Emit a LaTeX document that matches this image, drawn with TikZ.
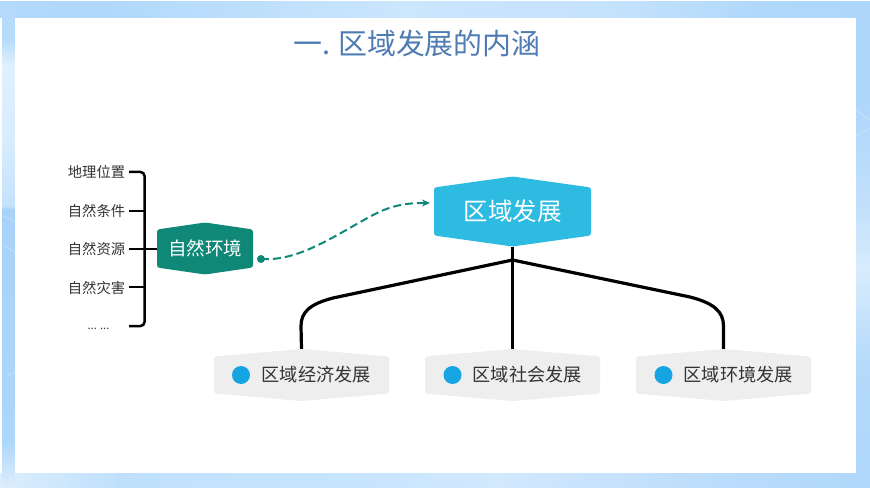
\documentclass[tikz,border=0pt]{standalone}
\usepackage{fontspec}
\setmainfont{Noto Sans CJK SC}
\usetikzlibrary{arrows.meta}
\definecolor{titlec}{HTML}{4F7CB3}
\definecolor{teal}{HTML}{0F8878}
\definecolor{skyb}{HTML}{2DBBE2}
\definecolor{greyb}{HTML}{EEEEEE}
\definecolor{dotb}{HTML}{14A5E2}
\definecolor{txt}{HTML}{333333}
\definecolor{f1}{HTML}{DCEEFC}
\definecolor{f2}{HTML}{ACD6FA}
\definecolor{f3}{HTML}{A8D2F9}
\definecolor{f4}{HTML}{C5E2FC}
\definecolor{f5}{HTML}{D8ECFD}
\definecolor{f6}{HTML}{E0F0FD}
\definecolor{f7}{HTML}{B8DCFB}
\definecolor{f8}{HTML}{B3D9FB}
\definecolor{f9}{HTML}{AFD7FA}
\definecolor{f10}{HTML}{B5DAFA}
\definecolor{f11}{HTML}{C0DFFB}
\definecolor{f12}{HTML}{AED6FB}
\definecolor{f13}{HTML}{B0D8FB}
\definecolor{f14}{HTML}{CBE6FD}
\definecolor{f15}{HTML}{C6E3FC}
\definecolor{f16}{HTML}{BFE0FC}
\definecolor{f17}{HTML}{CAE6FE}
\definecolor{f18}{HTML}{D2E8FD}
\definecolor{f19}{HTML}{BDDDFC}
\pgfdeclareverticalshading{leftstrip}{100bp}{color(0bp)=(f1); color(25bp)=(f1); color(29.85bp)=(f2); color(53.56bp)=(f3); color(54.07bp)=(f4); color(60.77bp)=(f5); color(68.5bp)=(f6); color(71.08bp)=(f7); color(75bp)=(f8); color(100bp)=(f8)}
\pgfdeclareverticalshading{rightstrip}{100bp}{color(0bp)=(f9); color(25bp)=(f9); color(38.09bp)=(f10); color(47.37bp)=(f5); color(54.59bp)=(f11); color(64.9bp)=(f12); color(75bp)=(f12); color(100bp)=(f12)}
\pgfdeclarehorizontalshading{topstrip}{100bp}{color(0bp)=(f8); color(25bp)=(f8); color(30.75bp)=(f13); color(47.99bp)=(f14); color(59.48bp)=(f15); color(68.68bp)=(f13); color(75bp)=(f12); color(100bp)=(f12)}
\pgfdeclarehorizontalshading{botstrip}{100bp}{color(0bp)=(f1); color(25bp)=(f1); color(31.9bp)=(f16); color(47.99bp)=(f17); color(53.74bp)=(f18); color(65.23bp)=(f19); color(75bp)=(f9); color(100bp)=(f9)}
\tikzset{
  x=1pt,y=-1pt,
  lbl/.style={inner sep=0pt,text=txt},
  itemlbl/.style={lbl,font=\fontsize{14.3}{16}\selectfont},
  greylbl/.style={lbl,font=\fontsize{18.2}{20}\selectfont},
  hexnode/.style={inner sep=0pt,text=white},
  trunk/.style={draw=black,line width=3.2pt},
  brace/.style={draw=black,line width=2.5pt,rounded corners=4pt},
  tick/.style={draw=black,line width=2.5pt},
  dotn/.style={circle,inner sep=0pt,minimum size=18pt,fill=dotb},
  streak/.style={draw=white,opacity=0.25,line width=1pt},
}
\newcommand{\hexshape}[9]{%
  \fill[#7,rounded corners=2.5pt] (#2-#4/2,#3-#5) -- (#2,#3-#6) -- (#2+#4/2,#3-#5)
     -- (#2+#4/2,#3+#5) -- (#2,#3+#6) -- (#2-#4/2,#3+#5) -- cycle;
  \node[hexnode,#8,minimum width=#4 pt,minimum height=2*#6 pt] (#1) at (#2,#3) {#9};
}
\begin{document}
\begin{tikzpicture}
\useasboundingbox (0,0) rectangle (870,489);
% frame
\fill[white] (0,0) rectangle (870,489);
\shade[shading=topstrip] (0,2) rectangle (870,18);
\shade[shading=botstrip] (0,473) rectangle (870,487);
\shade[shading=leftstrip] (2,2) rectangle (15,487);
\shade[shading=rightstrip] (856,2) rectangle (870,487);
\draw[streak] (3,216) -- (15,222);
\draw[streak] (3,245) -- (15,252);
\draw[streak] (7,376) -- (15,372);
\draw[streak] (856,110) -- (870,120);
\draw[streak] (856,136) -- (870,128);
\fill[white] (15,18) rectangle (856,473);
% title
\node[inner sep=0pt,text=titlec,anchor=west,font=\fontsize{28.9}{32}\selectfont] (title) at (293.5,44) {一.\hspace{-1pt} 区域发展的内涵};
% hexagons
\hexshape{main}{512.5}{211.5}{157}{24}{35}{skyb}{font=\fontsize{24.5}{28}\selectfont}{区域发展}
\hexshape{nat}{205}{248.5}{96}{19}{26}{teal}{font=\fontsize{18.5}{22}\selectfont}{自然环境}
\hexshape{eco}{301.5}{375}{175}{18.5}{26}{greyb}{}{}
\hexshape{soc}{512.5}{375}{175}{18.5}{26}{greyb}{}{}
\hexshape{env}{723.5}{375}{175}{18.5}{26}{greyb}{}{}
\node[dotn] (d1) at (241,375) {};
\node[dotn] (d2) at (452.5,375) {};
\node[dotn] (d3) at (663.5,375) {};
\node[greylbl,anchor=west] (t1) at (261.5,375) {区域经济发展};
\node[greylbl,anchor=west] (t2) at (472.5,375) {区域社会发展};
\node[greylbl,anchor=west] (t3) at (683.5,375) {区域环境发展};
% items
\node[itemlbl] (i1) at (96.5,172) {地理位置};
\node[itemlbl] (i2) at (96.5,211) {自然条件};
\node[itemlbl] (i3) at (96.5,249) {自然资源};
\node[itemlbl] (i4) at (96.5,288) {自然灾害};
\node[lbl,font=\fontsize{11}{12}\selectfont] (i5) at (98.5,329) {... ...};
% bracket
\coordinate (b1) at (129,172);
\coordinate (b2) at (129,211);
\coordinate (b3) at (129,249);
\coordinate (b4) at (129,287);
\coordinate (b5) at (129,326);
\draw[brace] (b1) -- (144.5,172) -- (144.5,326) -- (b5);
\draw[tick] (b2) -- (144.5,211);
\draw[tick] (b4) -- (144.5,287);
\draw[tick] (b3) -- (nat.west |- b3);
% tree
\coordinate (junc) at (512.5,260);
\draw[trunk] (main.south) -- (soc.north);
\draw[trunk] (junc) -- (333,298) .. controls (310,304) and (301,312) .. (301,326) -- (eco.north);
\draw[trunk] (junc) -- (690,297) .. controls (713,303) and (723.5,311) .. (723.5,326) -- (env.north);
% dashed arrow
\node[circle,inner sep=0pt,minimum size=8pt,fill=teal] (start) at (261,259) {};
\draw[teal,line width=2pt,dash pattern=on 8pt off 4pt,-{Stealth[length=8pt,width=7pt]}]
  (start.center) .. controls (300,262) and (340,232) .. (375,214) .. controls (395,204) and (410,203) .. (430,203);
\end{tikzpicture}
\end{document}
